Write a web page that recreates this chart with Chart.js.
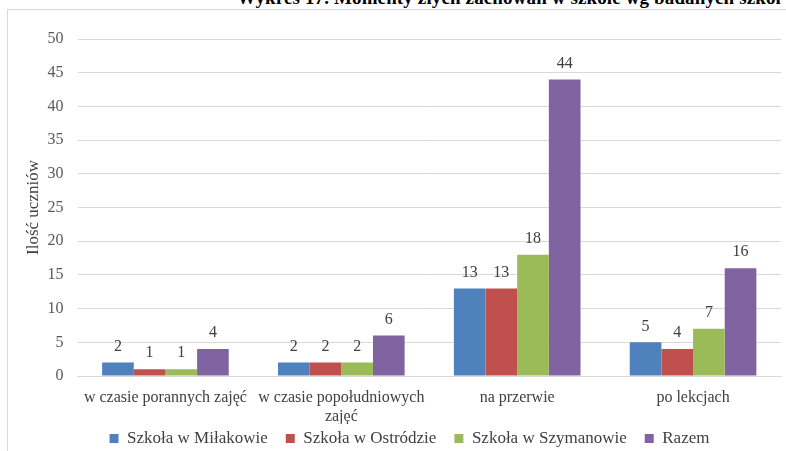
<!DOCTYPE html>
<html>
<head>
<meta charset="utf-8">
<script src="https://cdn.jsdelivr.net/npm/chart.js@4"></script>
<style>
  html, body { margin: 0; padding: 0; background: #fff; overflow: hidden; }
  #wrap { position: relative; width: 786px; height: 451px; overflow: hidden; }
  #frame { position: absolute; left: 7px; top: 9px; width: 800px; height: 460px; border: 1px solid #d9d9d9; }
  #title { position: absolute; left: 237px; top: -13px; font: bold 19px "Liberation Serif", serif; letter-spacing: 0.13px; color: #000; white-space: nowrap; }
  canvas { position: absolute; left: 0; top: 0; }
</style>
</head>
<body>
<div id="wrap">
  <div id="frame"></div>
  <div id="title">Wykres 17. Momenty złych zachowań w szkole wg badanych szkół</div>
  <canvas id="myChart" width="786" height="451"></canvas>
</div>
<script>
const categories = [
  'w czasie porannych zajęć',
  ['w czasie popołudniowych', 'zajęć'],
  'na przerwie',
  'po lekcjach'
];
const milakowo = [2, 2, 13, 5];
const ostroda = [1, 2, 13, 4];
const szymanowo = [1, 2, 18, 7];
const razem = [4, 6, 44, 16];

const serif = "'Liberation Serif', serif";
Chart.defaults.font.family = serif;

// value labels above bars
const valueLabels = {
  id: 'valueLabels',
  afterLayout(chart) {
    // pull the legend up closer to the axis labels, nudge it right
    const lg = chart.legend;
    lg.top = 412;
    lg.bottom = 460;
    lg.left += 9;
    lg.right += 9;
  },
  afterDatasetsDraw(chart) {
    const ctx = chart.ctx;
    ctx.save();
    ctx.font = '16px ' + serif;
    ctx.fillStyle = '#404040';
    ctx.textAlign = 'center';
    ctx.textBaseline = 'middle';
    chart.data.datasets.forEach((ds, i) => {
      chart.getDatasetMeta(i).data.forEach((bar, j) => {
        ctx.fillText(ds.data[j], bar.x, bar.y - 16);
      });
    });
    ctx.restore();
  }
};

const ctx = document.getElementById('myChart');
const myChart = new Chart(ctx, {
  type: 'bar',
  data: {
    labels: categories,
    datasets: [
      { label: 'Szkoła w Miłakowie', data: milakowo, backgroundColor: '#4f81bd' },
      { label: 'Szkoła w Ostródzie', data: ostroda, backgroundColor: '#c0504d' },
      { label: 'Szkoła w Szymanowie', data: szymanowo, backgroundColor: '#9bbb59' },
      { label: 'Razem', data: razem, backgroundColor: '#8064a2' }
    ]
  },
  options: {
    responsive: false,
    animation: false,
    layout: { padding: { left: 20, top: 39, right: 5, bottom: 0 } },
    datasets: {
      bar: { categoryPercentage: 0.72, barPercentage: 1 }
    },
    plugins: {
      tooltip: { enabled: false },
      legend: {
        position: 'bottom',
        maxHeight: 27,
        labels: {
          boxWidth: 9,
          boxHeight: 9,
          padding: 18,
          color: '#404040',
          font: { family: serif, size: 17 }
        }
      }
    },
    scales: {
      x: {
        grid: { display: false, drawTicks: false },
        border: { color: '#d9d9d9' },
        ticks: { color: '#404040', font: { family: serif, size: 16 }, padding: 12, maxRotation: 0, autoSkip: false },
        afterFit(scale) { scale.height = 48; }
      },
      y: {
        min: 0,
        max: 50,
        ticks: { stepSize: 5, color: '#595959', font: { family: serif, size: 16 }, padding: 14 },
        grid: { color: '#d9d9d9', drawTicks: false },
        border: { display: false },
        title: {
          display: true,
          text: 'Ilość uczniów',
          color: '#404040',
          font: { family: serif, size: 17 },
          padding: { top: 3, bottom: 0 }
        },
        afterFit(scale) { scale.width = 57.5; }
      }
    }
  },
  plugins: [valueLabels]
});
</script>
</body>
</html>
